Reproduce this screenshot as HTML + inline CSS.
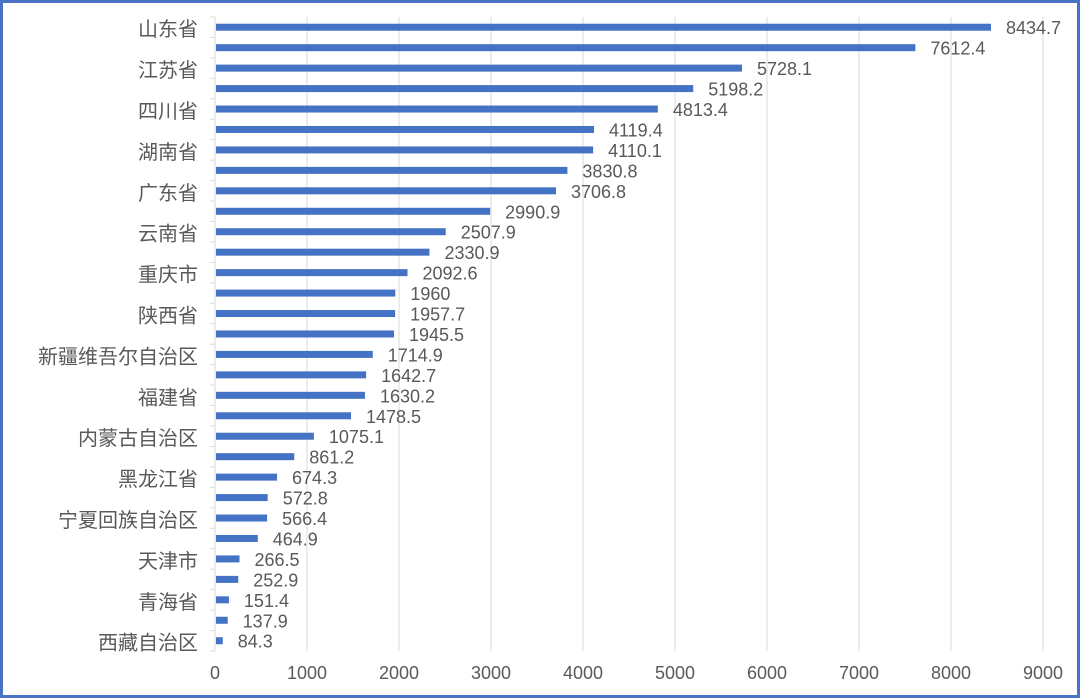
<!DOCTYPE html>
<html><head><meta charset="utf-8"><style>
html,body{margin:0;padding:0;background:#fff;}
#wrap{position:relative;width:1080px;height:698px;box-sizing:border-box;border:3px solid #4a72c4;background:#fff;}
svg text{font-family:"Liberation Sans","Noto Sans CJK SC",sans-serif;fill:#595959;}
</style></head><body>
<div id="wrap">
<svg id="chart" width="1074" height="692" style="position:absolute;left:0;top:0"></svg>
</div>
<script>
const categories=["山东省","河南省","江苏省","河北省","四川省","安徽省","湖南省","湖北省","广东省","广西壮族自治区","云南省","贵州省","重庆市","江西省","陕西省","辽宁省","新疆维吾尔自治区","吉林省","福建省","甘肃省","内蒙古自治区","山西省","黑龙江省","浙江省","宁夏回族自治区","海南省","天津市","北京市","青海省","上海市","西藏自治区"];
const values=[8434.7,7612.4,5728.1,5198.2,4813.4,4119.4,4110.1,3830.8,3706.8,2990.9,2507.9,2330.9,2092.6,1960,1957.7,1945.5,1714.9,1642.7,1630.2,1478.5,1075.1,861.2,674.3,572.8,566.4,464.9,266.5,252.9,151.4,137.9,84.3];
const xTicks=[0,1000,2000,3000,4000,5000,6000,7000,8000,9000];
const NS="http://www.w3.org/2000/svg";
const svg=document.getElementById('chart');
const OX=-3,OY=-3;
const x0=215,x1=1043,xMax=9000,yTop=17,rowH=20.45;
function xs(v){return x0+(v/xMax)*(x1-x0)+OX;}
function ys(i){return yTop+i*rowH+rowH/2+OY;}
function mk(t,a){const e=document.createElementNS(NS,t);for(const k in a)e.setAttribute(k,a[k]);svg.appendChild(e);return e;}
const yBot=yTop+categories.length*rowH;
xTicks.forEach(t=>{
  if(t>0){const g=mk('line',{x1:xs(t),x2:xs(t),y1:yTop+OY,y2:yBot+OY,stroke:'#d9d9d9','stroke-width':1});
  
  }
  const l=mk('text',{x:xs(t),y:679+OY,'text-anchor':'middle','font-size':18});
  l.textContent=t;
  
  
});
const ax=mk('line',{x1:xs(0),x2:xs(0),y1:yTop+OY,y2:yBot+OY,stroke:'#d9d9d9','stroke-width':1});


for(let i=0;i<=categories.length;i++){
  const tk=mk('line',{x1:xs(0)-5,x2:xs(0),y1:yTop+i*rowH+OY,y2:yTop+i*rowH+OY,stroke:'#d9d9d9','stroke-width':1});
  
  
}
categories.forEach((c,i)=>{
  const y=ys(i);
  const b=mk('rect',{x:xs(0)+1,y:y-3.5,width:Math.max(1,xs(values[i])-xs(0)-1),height:7,fill:'#4472c4'});
  
  
  const v=mk('text',{x:xs(values[i])+15,y:y+7,'font-size':18});
  v.textContent=values[i];
  
  
  if(i%2===0){
    const l=mk('text',{x:198+OX,y:y+9,'text-anchor':'end','font-size':20});
    l.textContent=c;
    
    
  }
});
</script>
</body></html>
